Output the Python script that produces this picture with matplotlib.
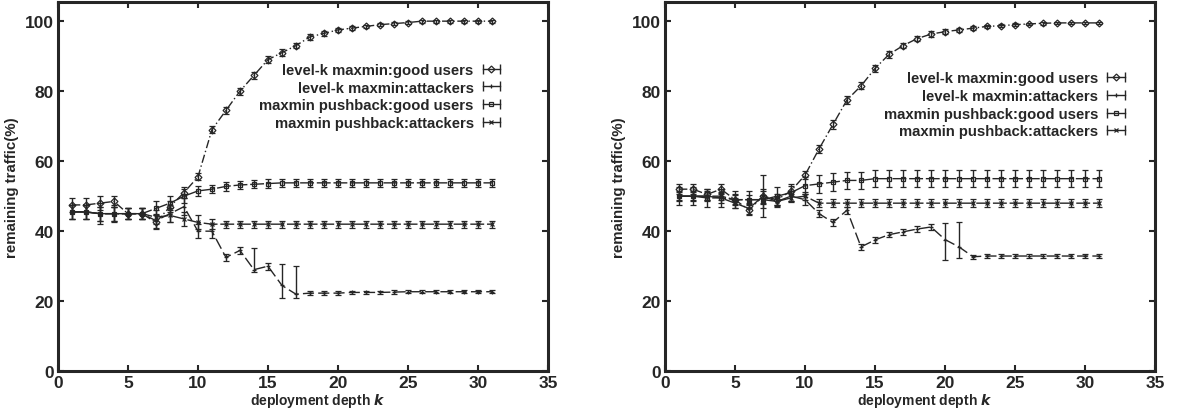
import matplotlib.pyplot as plt
from matplotlib.lines import Line2D
from matplotlib.legend_handler import HandlerLine2D, HandlerTuple

depth = list(range(1, 32))

# left panel
left_kgood = [47.5, 47.5, 48, 48.5, 45, 45, 42.5, 47, 51, 55.5, 69, 74.5, 80, 84.5, 89,
              91, 93, 95.5, 96.5, 97.5, 98, 98.5, 99, 99.3, 99.6, 100, 100, 100, 100, 100, 100]
left_kgood_err = [2, 2, 2, 1.5, 1.5, 1.5, 2, 1.5, 1.5, 1, 1, 1, 1, 1, 1,
                  1, 0.8, 0.8, 0.6, 0.6, 0.5, 0.5, 0.5, 0.5, 0.4, 0.4, 0.4, 0.4, 0.4, 0.4, 0.4]
left_katk = [45.5, 45.5, 45, 45, 45, 45, 43, 45, 47, 40, 40, 32.5, 34.5, 29, 30,
             24.5, 22, 22.3, 22.3, 22.3, 22.5, 22.5, 22.5, 22.6, 22.7, 22.7, 22.7, 22.7, 22.7, 22.7, 22.7]
left_katk_lo = [2, 2, 3, 2.5, 1.5, 1.5, 2, 2.5, 2.5, 2, 2, 1, 1, 0.8, 1,
                3.5, 1, 0.6, 0.6, 0.6, 0.5, 0.5, 0.5, 0.5, 0.4, 0.4, 0.4, 0.4, 0.4, 0.4, 0.4]
left_katk_hi = [2, 2, 3, 2.5, 1.5, 1.5, 2, 2.5, 2.5, 2, 2, 1, 1, 6.3, 1,
                6.1, 8, 0.6, 0.6, 0.6, 0.5, 0.5, 0.5, 0.5, 0.4, 0.4, 0.4, 0.4, 0.4, 0.4, 0.4]
left_pgood = [45.5, 45.5, 45, 45, 45, 45, 46.5, 48, 50, 51.5, 52, 52.8, 53.2, 53.4, 53.6,
              53.8, 53.8, 53.8, 53.8, 53.8, 53.8, 53.8, 53.8, 53.8, 53.8, 53.8, 53.8, 53.8, 53.8, 53.8, 53.8]
left_pgood_err = [2, 2, 2, 2, 1.5, 1.5, 2, 2, 2, 1.5, 1.2, 1.2, 1.2, 1.2, 1.2,
                  1.2, 1.2, 1.2, 1.2, 1.2, 1.2, 1.2, 1.2, 1.2, 1.2, 1.2, 1.2, 1.2, 1.2, 1.2, 1.2]
left_patk = [45.5, 45.5, 45, 45, 45, 45, 44, 44.5, 43.5, 42.5, 42, 42, 42, 42, 42,
             42, 42, 42, 42, 42, 42, 42, 42, 42, 42, 42, 42, 42, 42, 42, 42]
left_patk_err = [2, 2, 2, 2, 1.5, 1.5, 2, 2, 2, 2, 1.5, 1, 1, 1, 1,
                 1, 1, 1, 1, 1, 1, 1, 1, 1, 1, 1, 1, 1, 1, 1, 1]

# right panel
right_kgood = [52, 52, 50.5, 52, 49, 46, 50, 49, 51.5, 56, 63.5, 70.5, 77.5, 81.5, 86.5,
               90.5, 93, 95, 96.3, 97, 97.5, 98, 98.5, 98.7, 99, 99.2, 99.4, 99.5, 99.5, 99.5, 99.5]
right_kgood_err = [1.5, 1.5, 1.5, 1.5, 1.5, 1.5, 2, 1.5, 1.5, 1.2, 1.2, 1.2, 1.2, 1, 1,
                   1, 0.8, 0.8, 0.8, 0.8, 0.6, 0.6, 0.5, 0.5, 0.5, 0.4, 0.4, 0.4, 0.4, 0.4, 0.4]
right_katk = [50, 50, 50, 49.5, 48, 46.5, 50, 48.5, 50, 49, 45, 42.5, 46, 35.5, 37.5,
              39, 39.8, 40.6, 41.2, 37.6, 35.5, 32.7, 32.9, 32.9, 32.9, 32.9, 32.9, 32.9, 32.9, 32.9, 32.9]
right_katk_lo = [1.5, 1.5, 1.5, 1.5, 1.5, 1.5, 6, 1.5, 1.5, 1.5, 1, 1, 1, 0.8, 0.8,
                 0.8, 0.8, 0.8, 0.8, 5.9, 3.2, 0.6, 0.6, 0.6, 0.6, 0.6, 0.6, 0.6, 0.6, 0.6, 0.6]
right_katk_hi = [1.5, 1.5, 1.5, 1.5, 1.5, 1.5, 6, 1.5, 1.5, 1.5, 1, 1, 1, 0.8, 0.8,
                 0.8, 0.8, 0.8, 0.8, 4.8, 7.2, 0.6, 0.6, 0.6, 0.6, 0.6, 0.6, 0.6, 0.6, 0.6, 0.6]
right_pgood = [50, 50, 49.5, 49.5, 49, 49, 49, 50, 51, 53, 53.5, 54, 54.5, 54.5, 55,
               55, 55, 55, 55, 55, 55, 55, 55, 55, 55, 55, 55, 55, 55, 55, 55]
right_pgood_err = [2.5] * 31
right_patk = [50, 50, 50, 50, 49, 49, 49, 48.5, 49.5, 50, 48, 48, 48, 48, 48,
              48, 48, 48, 48, 48, 48, 48, 48, 48, 48, 48, 48, 48, 48, 48, 48]
right_patk_err = [1.2] * 31

labels = ["level-k maxmin:good users", "level-k maxmin:attackers",
          "maxmin pushback:good users", "maxmin pushback:attackers"]
markers = [('D', 'none'), ('+', None), ('s', 'none'), ('x', None)]
styles = [(0, (6, 2, 1, 2)), (0, (8, 3)), (0, (10, 2)), (0, (10, 2))]

ink = '#262626'
plt.rcParams['font.family'] = ['Liberation Sans', 'DejaVu Sans']
plt.rcParams['font.weight'] = 'bold'

fig = plt.figure(figsize=(11.82, 4.14), dpi=100)
ax1 = fig.add_axes([0.049, 0.101, 0.4146, 0.892])
ax2 = fig.add_axes([0.5626, 0.101, 0.4146, 0.892])

panels = [
    (ax1, [left_kgood, left_katk, left_pgood, left_patk],
     [left_kgood_err, [left_katk_lo, left_katk_hi], left_pgood_err, left_patk_err],
     (0.912, 0.835)),
    (ax2, [right_kgood, right_katk, right_pgood, right_patk],
     [right_kgood_err, [right_katk_lo, right_katk_hi], right_pgood_err, right_patk_err],
     (0.948, 0.812)),
]

for ax, series, errors, anchor in panels:
    handles = []
    hmap = {tuple: HandlerTuple(ndivide=1, pad=0)}
    for vals, err, (mk, mfc), ls, lab in zip(series, errors, markers, styles, labels):
        kw = dict(mfc=mfc) if mfc else {}
        ax.errorbar(depth, vals, yerr=err, fmt=mk, linestyle=ls, color=ink, ecolor=ink,
                    elinewidth=1.0, capsize=2.5, capthick=1.0, markersize=3.5,
                    mew=0.9, linewidth=1.0, **kw)
        # gnuplot-like key sample: horizontal bar with end caps and the marker
        bar = Line2D([], [], color=ink, marker='|', markersize=7, mew=1.0, linewidth=1.0)
        pt = Line2D([], [], color=ink, marker=mk, markersize=3.5, mew=0.9,
                    linestyle='none', **kw)
        hmap[bar] = HandlerLine2D(numpoints=2)
        hmap[pt] = HandlerLine2D(numpoints=1)
        handles.append((bar, pt))

    ax.set_xlim(0, 35)
    ax.set_ylim(0, 105.5)
    ax.set_xticks(range(0, 36, 5))
    ax.set_yticks(range(0, 101, 20))
    ax.tick_params(direction='in', top=True, right=True, length=4, width=1.5,
                   labelsize=12.5, colors=ink, pad=3)
    for t in ax.get_xticklabels() + ax.get_yticklabels():
        t.set_fontweight('bold')
    for sp in ax.spines.values():
        sp.set_linewidth(2.2)
        sp.set_color(ink)
    ax.set_xlabel("deployment depth $\\mathbf{\\it{k}}$", fontsize=10, fontweight='bold',
                  color=ink, labelpad=0)
    ax.xaxis.set_label_coords(0.53, -0.055)
    ax.set_ylabel("remaining traffic(%)", fontsize=10.8, fontweight='bold', color=ink,
                  labelpad=4)
    leg = ax.legend(handles, labels, handler_map=hmap, loc='upper right',
                    bbox_to_anchor=anchor, frameon=False, markerfirst=False,
                    fontsize=10.7, handlelength=1.8, handletextpad=0.3,
                    labelspacing=0.25, borderpad=0, borderaxespad=0)
    for t in leg.get_texts():
        t.set_fontweight('bold')
        t.set_color(ink)

fig.savefig('out.png', dpi=100)
